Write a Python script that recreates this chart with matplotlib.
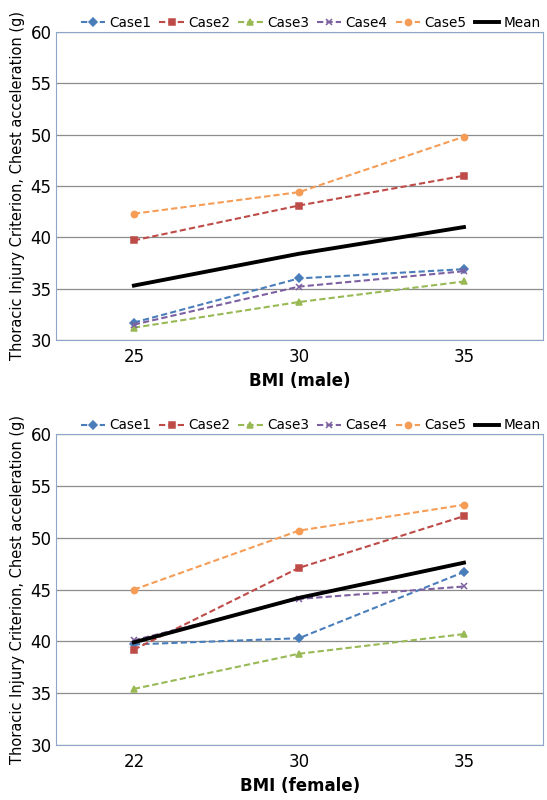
import matplotlib
matplotlib.use("Agg")
import matplotlib.pyplot as plt

series = ["Case1", "Case2", "Case3", "Case4", "Case5", "Mean"]
male_x = ["25", "30", "35"]
female_x = ["22", "30", "35"]
male = {
    "Case1": [31.7, 36.0, 36.9],
    "Case2": [39.7, 43.1, 46.0],
    "Case3": [31.2, 33.7, 35.7],
    "Case4": [31.5, 35.2, 36.7],
    "Case5": [42.3, 44.4, 49.8],
    "Mean": [35.3, 38.4, 41.0],
}
female = {
    "Case1": [39.7, 40.3, 46.7],
    "Case2": [39.2, 47.1, 52.1],
    "Case3": [35.4, 38.8, 40.7],
    "Case4": [40.1, 44.1, 45.3],
    "Case5": [45.0, 50.7, 53.2],
    "Mean": [39.9, 44.2, 47.6],
}
colors = {"Case1": "#4A7EBB", "Case2": "#BE4B48", "Case3": "#98B954",
          "Case4": "#7D60A0", "Case5": "#F59D56", "Mean": "black"}
markers = {"Case1": "D", "Case2": "s", "Case3": "^", "Case4": "x", "Case5": "o"}

fig = plt.figure(figsize=(5.47, 8.0), dpi=100)
axes = [fig.add_axes([0.103, 0.575, 0.89, 0.385]),
        fig.add_axes([0.103, 0.069, 0.89, 0.388])]
for ax, xl, data, lab in [(axes[0], male_x, male, "BMI (male)"),
                          (axes[1], female_x, female, "BMI (female)")]:
    pos = range(len(xl))
    for s in series:
        if s == "Mean":
            ax.plot(pos, data[s], color="black", lw=2.8, label=s)
        else:
            ax.plot(pos, data[s], color=colors[s], ls="--", lw=1.5,
                    marker=markers[s], ms=4.5, mew=1.1, label=s, dashes=(3, 1.5))
    ax.set_xlim(-0.47, 2.48)
    ax.set_ylim(30, 60)
    ax.set_yticks(range(30, 61, 5))
    ax.set_xticks(list(pos))
    ax.set_xticklabels(xl, fontsize=12)
    ax.tick_params(axis="y", labelsize=12, length=0)
    ax.tick_params(axis="x", length=0, pad=6)
    ax.grid(axis="y", color="#8c8c8c", lw=0.9)
    ax.set_axisbelow(True)
    for sp in ax.spines.values():
        sp.set_color("#8EA4C8")
    ax.set_xlabel(lab, fontsize=12, fontweight="bold")
    ax.set_ylabel("Thoracic Injury Criterion, Chest acceleration (g)", fontsize=10.5)
    ax.legend(loc="lower right", bbox_to_anchor=(1.0, 0.998), ncol=6, frameon=False,
              fontsize=9.8, handlelength=1.8, columnspacing=0.6, handletextpad=0.3,
              borderaxespad=0, borderpad=0.2)
fig.savefig("out.png", dpi=100)
